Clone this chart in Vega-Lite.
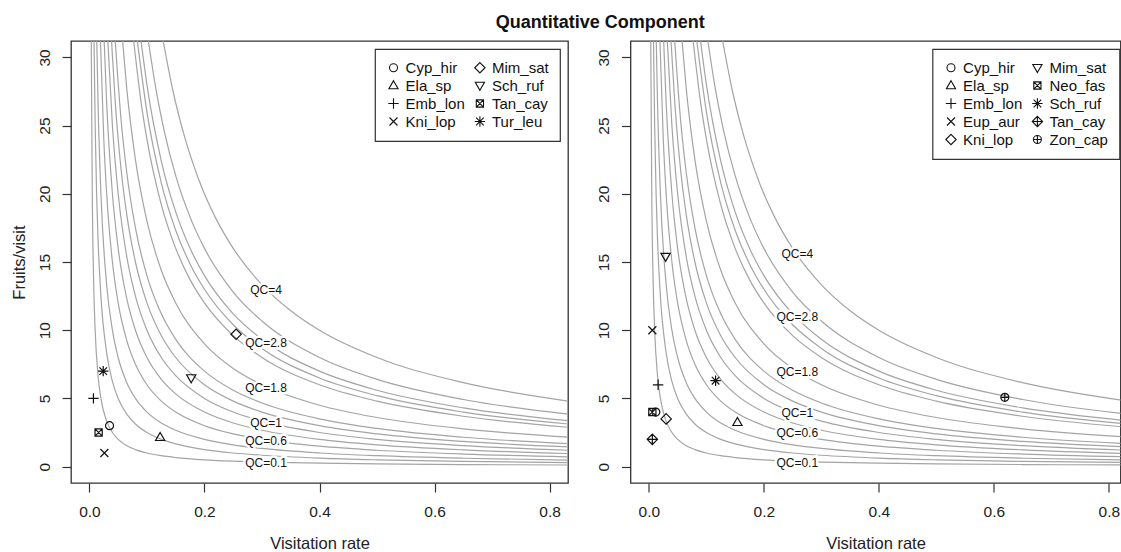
{
  "$schema": "https://vega.github.io/schema/vega-lite/v6.json",
  "padding": {"left": 10, "top": 14, "right": 0, "bottom": 0},
  "title": {"text": "Quantitative Component", "fontSize": 18, "fontWeight": "bold", "anchor": "middle", "dx": 34.5, "offset": 8, "color": "#111", "font": "Liberation Sans"},
  "spacing": 26.5,
  "resolve": {"scale": {"shape": "independent", "x": "independent", "y": "independent"}, "legend": {"shape": "independent"}},
  "config": {
    "font": "Liberation Sans",
    "view": {"stroke": "#333", "strokeWidth": 1.3},
    "axis": {"grid": false, "domain": false, "tickSize": 9, "tickColor": "#333", "tickWidth": 1.2, "labelFontSize": 15.5, "labelColor": "#222", "titleFontSize": 16.5, "titleFontWeight": "normal", "titleColor": "#222", "labelFont": "Liberation Sans", "titleFont": "Liberation Sans"},
    "axisX": {"labelPadding": 12},
    "axisY": {"labelAngle": 270, "labelAlign": "center", "labelBaseline": "alphabetic", "labelPadding": 13},
    "legend": {"strokeColor": "#333", "strokeWidth": 1.2, "padding": 11, "labelFontSize": 15, "labelColor": "#111", "labelFont": "Liberation Sans", "labelOffset": 4.6, "columnPadding": 7.4, "rowPadding": 2, "symbolSize": 64, "symbolStrokeWidth": 1.1, "symbolStrokeColor": "#111", "symbolFillColor": "transparent", "columns": 2, "fillColor": "white"}
  },
  "datasets": {
    "curves": [
      {"q":0.1,"x":0.0032,"y":31.2},{"q":0.1,"x":0.005,"y":20},{"q":0.1,"x":0.0075,"y":13.33},{"q":0.1,"x":0.01,"y":10},{"q":0.1,"x":0.015,"y":6.667},{"q":0.1,"x":0.02,"y":5},{"q":0.1,"x":0.03,"y":3.333},{"q":0.1,"x":0.04,"y":2.5},{"q":0.1,"x":0.05,"y":2},{"q":0.1,"x":0.065,"y":1.538},{"q":0.1,"x":0.08,"y":1.25},{"q":0.1,"x":0.1,"y":1},{"q":0.1,"x":0.125,"y":0.8},{"q":0.1,"x":0.15,"y":0.667},{"q":0.1,"x":0.2,"y":0.5},{"q":0.1,"x":0.25,"y":0.4},{"q":0.1,"x":0.3,"y":0.333},{"q":0.1,"x":0.4,"y":0.25},{"q":0.1,"x":0.5,"y":0.2},{"q":0.1,"x":0.65,"y":0.154},{"q":0.1,"x":0.832,"y":0.12},
      {"q":0.25,"x":0.00801,"y":31.2},{"q":0.25,"x":0.01,"y":25},{"q":0.25,"x":0.0125,"y":20},{"q":0.25,"x":0.015,"y":16.67},{"q":0.25,"x":0.02,"y":12.5},{"q":0.25,"x":0.03,"y":8.333},{"q":0.25,"x":0.04,"y":6.25},{"q":0.25,"x":0.05,"y":5},{"q":0.25,"x":0.065,"y":3.846},{"q":0.25,"x":0.08,"y":3.125},{"q":0.25,"x":0.1,"y":2.5},{"q":0.25,"x":0.125,"y":2},{"q":0.25,"x":0.15,"y":1.667},{"q":0.25,"x":0.2,"y":1.25},{"q":0.25,"x":0.25,"y":1},{"q":0.25,"x":0.3,"y":0.833},{"q":0.25,"x":0.4,"y":0.625},{"q":0.25,"x":0.5,"y":0.5},{"q":0.25,"x":0.65,"y":0.385},{"q":0.25,"x":0.832,"y":0.3},
      {"q":0.4,"x":0.01282,"y":31.2},{"q":0.4,"x":0.015,"y":26.67},{"q":0.4,"x":0.02,"y":20},{"q":0.4,"x":0.03,"y":13.33},{"q":0.4,"x":0.04,"y":10},{"q":0.4,"x":0.05,"y":8},{"q":0.4,"x":0.065,"y":6.154},{"q":0.4,"x":0.08,"y":5},{"q":0.4,"x":0.1,"y":4},{"q":0.4,"x":0.125,"y":3.2},{"q":0.4,"x":0.15,"y":2.667},{"q":0.4,"x":0.2,"y":2},{"q":0.4,"x":0.25,"y":1.6},{"q":0.4,"x":0.3,"y":1.333},{"q":0.4,"x":0.4,"y":1},{"q":0.4,"x":0.5,"y":0.8},{"q":0.4,"x":0.65,"y":0.615},{"q":0.4,"x":0.832,"y":0.481},
      {"q":0.6,"x":0.01923,"y":31.2},{"q":0.6,"x":0.025,"y":24},{"q":0.6,"x":0.03,"y":20},{"q":0.6,"x":0.04,"y":15},{"q":0.6,"x":0.05,"y":12},{"q":0.6,"x":0.065,"y":9.231},{"q":0.6,"x":0.08,"y":7.5},{"q":0.6,"x":0.1,"y":6},{"q":0.6,"x":0.125,"y":4.8},{"q":0.6,"x":0.15,"y":4},{"q":0.6,"x":0.2,"y":3},{"q":0.6,"x":0.25,"y":2.4},{"q":0.6,"x":0.3,"y":2},{"q":0.6,"x":0.4,"y":1.5},{"q":0.6,"x":0.5,"y":1.2},{"q":0.6,"x":0.65,"y":0.923},{"q":0.6,"x":0.832,"y":0.721},
      {"q":0.8,"x":0.02564,"y":31.2},{"q":0.8,"x":0.03,"y":26.67},{"q":0.8,"x":0.04,"y":20},{"q":0.8,"x":0.05,"y":16},{"q":0.8,"x":0.065,"y":12.31},{"q":0.8,"x":0.08,"y":10},{"q":0.8,"x":0.1,"y":8},{"q":0.8,"x":0.125,"y":6.4},{"q":0.8,"x":0.15,"y":5.333},{"q":0.8,"x":0.2,"y":4},{"q":0.8,"x":0.25,"y":3.2},{"q":0.8,"x":0.3,"y":2.667},{"q":0.8,"x":0.4,"y":2},{"q":0.8,"x":0.5,"y":1.6},{"q":0.8,"x":0.65,"y":1.231},{"q":0.8,"x":0.832,"y":0.962},
      {"q":1,"x":0.03205,"y":31.2},{"q":1,"x":0.04,"y":25},{"q":1,"x":0.05,"y":20},{"q":1,"x":0.065,"y":15.38},{"q":1,"x":0.08,"y":12.5},{"q":1,"x":0.1,"y":10},{"q":1,"x":0.125,"y":8},{"q":1,"x":0.15,"y":6.667},{"q":1,"x":0.2,"y":5},{"q":1,"x":0.25,"y":4},{"q":1,"x":0.3,"y":3.333},{"q":1,"x":0.4,"y":2.5},{"q":1,"x":0.5,"y":2},{"q":1,"x":0.65,"y":1.538},{"q":1,"x":0.832,"y":1.202},
      {"q":1.2,"x":0.03846,"y":31.2},{"q":1.2,"x":0.045,"y":26.67},{"q":1.2,"x":0.055,"y":21.82},{"q":1.2,"x":0.065,"y":18.46},{"q":1.2,"x":0.08,"y":15},{"q":1.2,"x":0.1,"y":12},{"q":1.2,"x":0.125,"y":9.6},{"q":1.2,"x":0.15,"y":8},{"q":1.2,"x":0.2,"y":6},{"q":1.2,"x":0.25,"y":4.8},{"q":1.2,"x":0.3,"y":4},{"q":1.2,"x":0.4,"y":3},{"q":1.2,"x":0.5,"y":2.4},{"q":1.2,"x":0.65,"y":1.846},{"q":1.2,"x":0.832,"y":1.442},
      {"q":1.4,"x":0.04487,"y":31.2},{"q":1.4,"x":0.055,"y":25.45},{"q":1.4,"x":0.065,"y":21.54},{"q":1.4,"x":0.08,"y":17.5},{"q":1.4,"x":0.1,"y":14},{"q":1.4,"x":0.125,"y":11.2},{"q":1.4,"x":0.15,"y":9.333},{"q":1.4,"x":0.2,"y":7},{"q":1.4,"x":0.25,"y":5.6},{"q":1.4,"x":0.3,"y":4.667},{"q":1.4,"x":0.4,"y":3.5},{"q":1.4,"x":0.5,"y":2.8},{"q":1.4,"x":0.65,"y":2.154},{"q":1.4,"x":0.832,"y":1.683},
      {"q":1.8,"x":0.05769,"y":31.2},{"q":1.8,"x":0.065,"y":27.69},{"q":1.8,"x":0.08,"y":22.5},{"q":1.8,"x":0.1,"y":18},{"q":1.8,"x":0.125,"y":14.4},{"q":1.8,"x":0.15,"y":12},{"q":1.8,"x":0.2,"y":9},{"q":1.8,"x":0.25,"y":7.2},{"q":1.8,"x":0.3,"y":6},{"q":1.8,"x":0.4,"y":4.5},{"q":1.8,"x":0.5,"y":3.6},{"q":1.8,"x":0.65,"y":2.769},{"q":1.8,"x":0.832,"y":2.163},
      {"q":2.4,"x":0.07692,"y":31.2},{"q":2.4,"x":0.09,"y":26.67},{"q":2.4,"x":0.1,"y":24},{"q":2.4,"x":0.125,"y":19.2},{"q":2.4,"x":0.15,"y":16},{"q":2.4,"x":0.175,"y":13.71},{"q":2.4,"x":0.2,"y":12},{"q":2.4,"x":0.25,"y":9.6},{"q":2.4,"x":0.3,"y":8},{"q":2.4,"x":0.4,"y":6},{"q":2.4,"x":0.5,"y":4.8},{"q":2.4,"x":0.65,"y":3.692},{"q":2.4,"x":0.832,"y":2.885},
      {"q":2.6,"x":0.08333,"y":31.2},{"q":2.6,"x":0.1,"y":26},{"q":2.6,"x":0.125,"y":20.8},{"q":2.6,"x":0.15,"y":17.33},{"q":2.6,"x":0.175,"y":14.86},{"q":2.6,"x":0.2,"y":13},{"q":2.6,"x":0.25,"y":10.4},{"q":2.6,"x":0.3,"y":8.667},{"q":2.6,"x":0.4,"y":6.5},{"q":2.6,"x":0.5,"y":5.2},{"q":2.6,"x":0.65,"y":4},{"q":2.6,"x":0.832,"y":3.125},
      {"q":2.8,"x":0.08974,"y":31.2},{"q":2.8,"x":0.1,"y":28},{"q":2.8,"x":0.125,"y":22.4},{"q":2.8,"x":0.15,"y":18.67},{"q":2.8,"x":0.175,"y":16},{"q":2.8,"x":0.2,"y":14},{"q":2.8,"x":0.25,"y":11.2},{"q":2.8,"x":0.3,"y":9.333},{"q":2.8,"x":0.4,"y":7},{"q":2.8,"x":0.5,"y":5.6},{"q":2.8,"x":0.65,"y":4.308},{"q":2.8,"x":0.832,"y":3.365},
      {"q":3.2,"x":0.10256,"y":31.2},{"q":3.2,"x":0.115,"y":27.83},{"q":3.2,"x":0.13,"y":24.62},{"q":3.2,"x":0.15,"y":21.33},{"q":3.2,"x":0.175,"y":18.29},{"q":3.2,"x":0.2,"y":16},{"q":3.2,"x":0.25,"y":12.8},{"q":3.2,"x":0.3,"y":10.67},{"q":3.2,"x":0.4,"y":8},{"q":3.2,"x":0.5,"y":6.4},{"q":3.2,"x":0.65,"y":4.923},{"q":3.2,"x":0.832,"y":3.846},
      {"q":4,"x":0.12821,"y":31.2},{"q":4,"x":0.145,"y":27.59},{"q":4,"x":0.165,"y":24.24},{"q":4,"x":0.19,"y":21.05},{"q":4,"x":0.22,"y":18.18},{"q":4,"x":0.25,"y":16},{"q":4,"x":0.3,"y":13.33},{"q":4,"x":0.35,"y":11.43},{"q":4,"x":0.4,"y":10},{"q":4,"x":0.5,"y":8},{"q":4,"x":0.65,"y":6.154},{"q":4,"x":0.832,"y":4.808}
    ],
    "leftPts": [
      {"sp":"Cyp_hir","x":0.035,"y":3.0},{"sp":"Ela_sp","x":0.123,"y":2.15},{"sp":"Emb_lon","x":0.007,"y":5.0},{"sp":"Kni_lop","x":0.026,"y":1.0},
      {"sp":"Mim_sat","x":0.255,"y":9.7},{"sp":"Sch_ruf","x":0.177,"y":6.5},{"sp":"Tan_cay","x":0.016,"y":2.5},{"sp":"Tur_leu","x":0.024,"y":7.0}
    ],
    "rightPts": [
      {"sp":"Cyp_hir","x":0.012,"y":4.0},{"sp":"Ela_sp","x":0.154,"y":3.25},{"sp":"Emb_lon","x":0.016,"y":6.0},{"sp":"Eup_aur","x":0.006,"y":10.0},{"sp":"Kni_lop","x":0.03,"y":3.5},
      {"sp":"Mim_sat","x":0.029,"y":15.4},{"sp":"Neo_fas","x":0.006,"y":4.0},{"sp":"Sch_ruf","x":0.116,"y":6.3},{"sp":"Tan_cay","x":0.006,"y":2.0},{"sp":"Zon_cap","x":0.619,"y":5.08}
    ],
    "leftLab": [
      {"t":"QC=4","x":0.307,"y":12.95},{"t":"QC=2.8","x":0.307,"y":9.06},{"t":"QC=1.8","x":0.307,"y":5.77},{"t":"QC=1","x":0.307,"y":3.21},{"t":"QC=0.6","x":0.307,"y":1.87},{"t":"QC=0.1","x":0.307,"y":0.29}
    ],
    "rightLab": [
      {"t":"QC=4","x":0.258,"y":15.55},{"t":"QC=2.8","x":0.258,"y":11.0},{"t":"QC=1.8","x":0.258,"y":6.96},{"t":"QC=1","x":0.258,"y":3.95},{"t":"QC=0.6","x":0.258,"y":2.44},{"t":"QC=0.1","x":0.258,"y":0.29}
    ]
  },
  "hconcat": [
    {
      "width": 497, "height": 442,
      "layer": [
        {
          "data": {"name": "curves"},
          "mark": {"type": "line", "clip": true, "color": "#a4a4a4", "strokeWidth": 1.2, "interpolate": "monotone"},
          "encoding": {
            "x": {"field": "x", "type": "quantitative", "scale": {"domain": [-0.032, 0.832], "nice": false, "zero": false}, "axis": {"values": [0, 0.2, 0.4, 0.6, 0.8], "format": ".1f", "title": "Visitation rate", "titlePadding": 16}},
            "y": {"field": "y", "type": "quantitative", "scale": {"domain": [-1.2, 31.2], "nice": false, "zero": false}, "axis": {"values": [0, 5, 10, 15, 20, 25, 30], "title": "Fruits/visit", "titlePadding": 10}},
            "detail": {"field": "q", "type": "nominal"}
          }
        },
        {
          "data": {"name": "leftLab"},
          "mark": {"type": "text", "fontSize": 12, "stroke": "white", "strokeWidth": 5, "fill": "white", "align": "center", "baseline": "middle"},
          "encoding": {"x": {"field": "x", "type": "quantitative"}, "y": {"field": "y", "type": "quantitative"}, "text": {"field": "t"}}
        },
        {
          "data": {"name": "leftLab"},
          "mark": {"type": "text", "fontSize": 12, "color": "#111", "align": "center", "baseline": "middle"},
          "encoding": {"x": {"field": "x", "type": "quantitative"}, "y": {"field": "y", "type": "quantitative"}, "text": {"field": "t"}}
        },
        {
          "data": {"name": "leftPts"},
          "mark": {"type": "point", "filled": false, "stroke": "#111", "strokeWidth": 1.2, "size": 64, "opacity": 1},
          "encoding": {
            "x": {"field": "x", "type": "quantitative"},
            "y": {"field": "y", "type": "quantitative"},
            "shape": {"field": "sp", "type": "nominal",
              "scale": {"domain": ["Cyp_hir","Ela_sp","Emb_lon","Kni_lop","Mim_sat","Sch_ruf","Tan_cay","Tur_leu"],
                "range": ["M1,0A1,1,0,1,1,-1,0A1,1,0,1,1,1,0Z", "M0,-1.2L1.15,0.8L-1.15,0.8Z", "M-1.3,0L1.3,0M0,-1.3L0,1.3", "M-1,-1L1,1M-1,1L1,-1", "M0,-1.3L1.3,0L0,1.3L-1.3,0Z", "M0,1.2L1.15,-0.8L-1.15,-0.8Z", "M-0.9,-0.9L0.9,-0.9L0.9,0.9L-0.9,0.9ZM-0.9,-0.9L0.9,0.9M-0.9,0.9L0.9,-0.9", "M-1.3,0L1.3,0M0,-1.3L0,1.3M-0.95,-0.95L0.95,0.95M-0.95,0.95L0.95,-0.95"]},
              "legend": {"title": null, "orient": "none", "legendX": 304, "legendY": 8}
            }
          }
        }
      ]
    },
    {
      "width": 490, "height": 442,
      "layer": [
        {
          "data": {"name": "curves"},
          "mark": {"type": "line", "clip": true, "color": "#a4a4a4", "strokeWidth": 1.2, "interpolate": "monotone"},
          "encoding": {
            "x": {"field": "x", "type": "quantitative", "scale": {"domain": [-0.032, 0.8202], "nice": false, "zero": false}, "axis": {"values": [0, 0.2, 0.4, 0.6, 0.8], "format": ".1f", "title": "Visitation rate", "titlePadding": 16}},
            "y": {"field": "y", "type": "quantitative", "scale": {"domain": [-1.2, 31.2], "nice": false, "zero": false}, "axis": {"values": [0, 5, 10, 15, 20, 25, 30], "title": null}},
            "detail": {"field": "q", "type": "nominal"}
          }
        },
        {
          "data": {"name": "rightLab"},
          "mark": {"type": "text", "fontSize": 12, "stroke": "white", "strokeWidth": 5, "fill": "white", "align": "center", "baseline": "middle"},
          "encoding": {"x": {"field": "x", "type": "quantitative"}, "y": {"field": "y", "type": "quantitative"}, "text": {"field": "t"}}
        },
        {
          "data": {"name": "rightLab"},
          "mark": {"type": "text", "fontSize": 12, "color": "#111", "align": "center", "baseline": "middle"},
          "encoding": {"x": {"field": "x", "type": "quantitative"}, "y": {"field": "y", "type": "quantitative"}, "text": {"field": "t"}}
        },
        {
          "data": {"name": "rightPts"},
          "mark": {"type": "point", "filled": false, "stroke": "#111", "strokeWidth": 1.2, "size": 64, "opacity": 1},
          "encoding": {
            "x": {"field": "x", "type": "quantitative"},
            "y": {"field": "y", "type": "quantitative"},
            "shape": {"field": "sp", "type": "nominal",
              "scale": {"domain": ["Cyp_hir","Ela_sp","Emb_lon","Eup_aur","Kni_lop","Mim_sat","Neo_fas","Sch_ruf","Tan_cay","Zon_cap"],
                "range": ["M1,0A1,1,0,1,1,-1,0A1,1,0,1,1,1,0Z", "M0,-1.2L1.15,0.8L-1.15,0.8Z", "M-1.3,0L1.3,0M0,-1.3L0,1.3", "M-1,-1L1,1M-1,1L1,-1", "M0,-1.3L1.3,0L0,1.3L-1.3,0Z", "M0,1.2L1.15,-0.8L-1.15,-0.8Z", "M-0.9,-0.9L0.9,-0.9L0.9,0.9L-0.9,0.9ZM-0.9,-0.9L0.9,0.9M-0.9,0.9L0.9,-0.9", "M-1.3,0L1.3,0M0,-1.3L0,1.3M-0.95,-0.95L0.95,0.95M-0.95,0.95L0.95,-0.95", "M0,-1.3L1.3,0L0,1.3L-1.3,0ZM-1.3,0L1.3,0M0,-1.3L0,1.3", "M1,0A1,1,0,1,1,-1,0A1,1,0,1,1,1,0ZM-1,0L1,0M0,-1L0,1"]},
              "legend": {"title": null, "orient": "none", "legendX": 302, "legendY": 8}
            }
          }
        }
      ]
    }
  ]
}
